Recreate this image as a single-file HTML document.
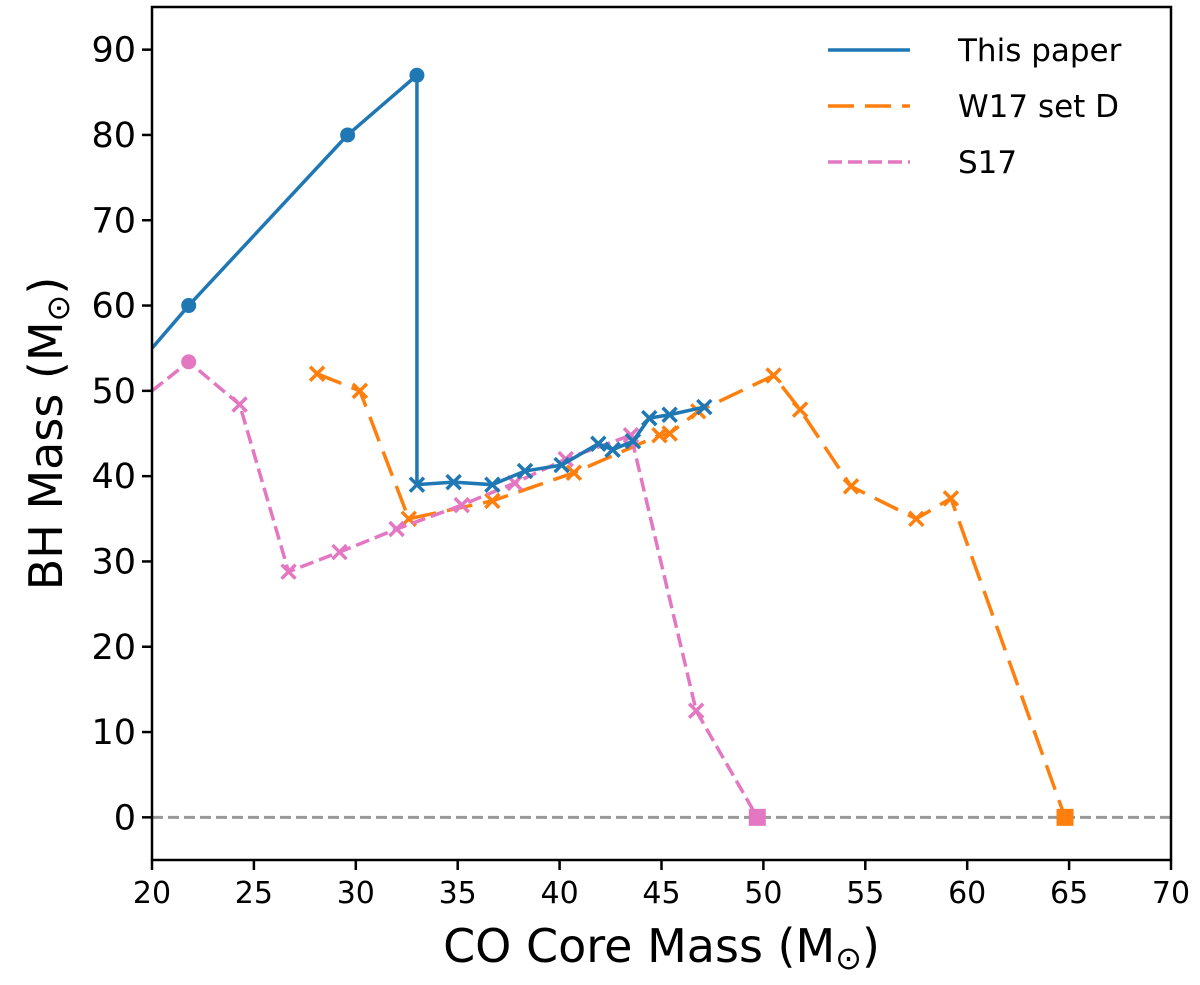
<!DOCTYPE html>
<html><head><meta charset="utf-8"><style>
body{margin:0;background:#fff;}
svg{display:block;font-family:"DejaVu Sans","Liberation Sans",sans-serif;}
</style></head><body>
<svg id="chart" width="1200" height="985" viewBox="0 0 1200 985" xmlns="http://www.w3.org/2000/svg"></svg>
<script>
const xTicks=[20,25,30,35,40,45,50,55,60,65,70];
const yTicks=[0,10,20,30,40,50,60,70,80,90];
const paperX=[20,21.8,29.6,33,33,34.8,36.7,38.3,40.1,41.9,42.6,43.6,44.4,45.4,47.1];
const paperY=[55,60,80,87,39,39.3,39,40.6,41.3,43.8,43.1,44.1,46.8,47.2,48.1];
const paperMk=["n","o","o","o","x","x","x","x","x","x","x","x","x","x","x"];
const w17X=[28.1,30.2,32.6,36.7,40.7,44.9,45.4,46.8,50.5,51.8,54.3,57.5,59.2,64.8];
const w17Y=[52,50,35,37.1,40.4,44.8,45,47.6,51.8,47.8,38.8,35,37.4,0];
const w17Mk=["x","x","x","x","x","x","x","x","x","x","x","x","x","s"];
const s17X=[20,21.8,24.3,26.7,29.2,32,35.2,37.8,40.3,43.5,46.7,49.7];
const s17Y=[50,53.4,48.4,28.8,31.1,33.8,36.6,39.2,42,44.8,12.5,0];
const s17Mk=["n","o","x","x","x","x","x","x","x","x","x","s"];
const L=152,R=1171,T=7,B=860,X0=20,X1=70,Y0=-5,Y1=95;
const sx=v=>L+(v-X0)/(X1-X0)*(R-L), sy=v=>B-(v-Y0)/(Y1-Y0)*(B-T);
const svg=document.getElementById('chart');const NS="http://www.w3.org/2000/svg";
function mk(tag,at,par){const e=document.createElementNS(NS,tag);for(const k in at)e.setAttribute(k,at[k]);(par||svg).appendChild(e);return e;}
const clip=mk('clipPath',{id:'clp'});mk('rect',{x:L,y:T,width:R-L,height:B-T},clip);
const zl=mk('line',{x1:L,x2:R,y1:sy(0),y2:sy(0),stroke:'#999','stroke-width':3,'stroke-dasharray':'11 5'});


function series(xs,ys,mks,color,dash,name){
  const g=mk('g',{'clip-path':'url(#clp)'});
  
  
  const p=mk('polyline',{points:xs.map((x,i)=>sx(x)+','+sy(ys[i])).join(' '),fill:'none',stroke:color,'stroke-width':3.5,'stroke-dasharray':dash},g);
  
  
  xs.forEach((x,i)=>{const cx=sx(x),cy=sy(ys[i]);let m=null;
    if(mks[i]=='o')m=mk('circle',{cx:cx,cy:cy,r:7.5,fill:color},g);
    else if(mks[i]=='s')m=mk('rect',{x:cx-8.5,y:cy-8.5,width:17,height:17,fill:color},g);
    else if(mks[i]=='x')m=mk('path',{d:`M${cx-7},${cy-7}L${cx+7},${cy+7}M${cx-7},${cy+7}L${cx+7},${cy-7}`,stroke:color,'stroke-width':3.5},g);
    if(m){
    }});
}
series(w17X,w17Y,w17Mk,'#ff7f0e','26 11','w17-series');
series(s17X,s17Y,s17Mk,'#e377c2','14 6','s17-series');
series(paperX,paperY,paperMk,'#1f77b4','none','this-paper-series');
const ax=mk('rect',{x:L,y:T,width:R-L,height:B-T,fill:'none',stroke:'#000','stroke-width':2.5});


xTicks.forEach(v=>{mk('line',{x1:sx(v),x2:sx(v),y1:B,y2:B+10,stroke:'#000','stroke-width':2.5});
  const t=mk('text',{x:sx(v),y:B+43,'font-size':30,'text-anchor':'middle'});t.textContent=v;
  
  });
yTicks.forEach(v=>{mk('line',{x1:L-10,x2:L,y1:sy(v),y2:sy(v),stroke:'#000','stroke-width':2.5});
  const t=mk('text',{x:L-16,y:sy(v)+12,'font-size':35,'text-anchor':'end'});t.textContent=v;
  
  });
const xt=mk('text',{x:(L+R)/2,y:962,'font-size':46,'text-anchor':'middle'});xt.innerHTML='CO Core Mass (M<tspan font-size="32" dy="7">⊙</tspan><tspan dy="-7">)</tspan>';


const yt=mk('text',{x:0,y:0,'font-size':46,'text-anchor':'middle',transform:`translate(62,${(T+B)/2}) rotate(-90)`});yt.innerHTML='BH Mass (M<tspan font-size="32" dy="7">⊙</tspan><tspan dy="-7">)</tspan>';


const leg=[['This paper','#1f77b4','none'],['W17 set D','#ff7f0e','26 11'],['S17','#e377c2','14 6']];
leg.forEach((e,i)=>{const y=50+i*56;const g=mk('g',{});
  
  
  mk('line',{x1:828,x2:910,y1:y,y2:y,stroke:e[1],'stroke-width':3.5,'stroke-dasharray':e[2]},g);
  const t=mk('text',{x:958,y:y+11,'font-size':31},g);t.textContent=e[0];});
</script>
</body></html>
